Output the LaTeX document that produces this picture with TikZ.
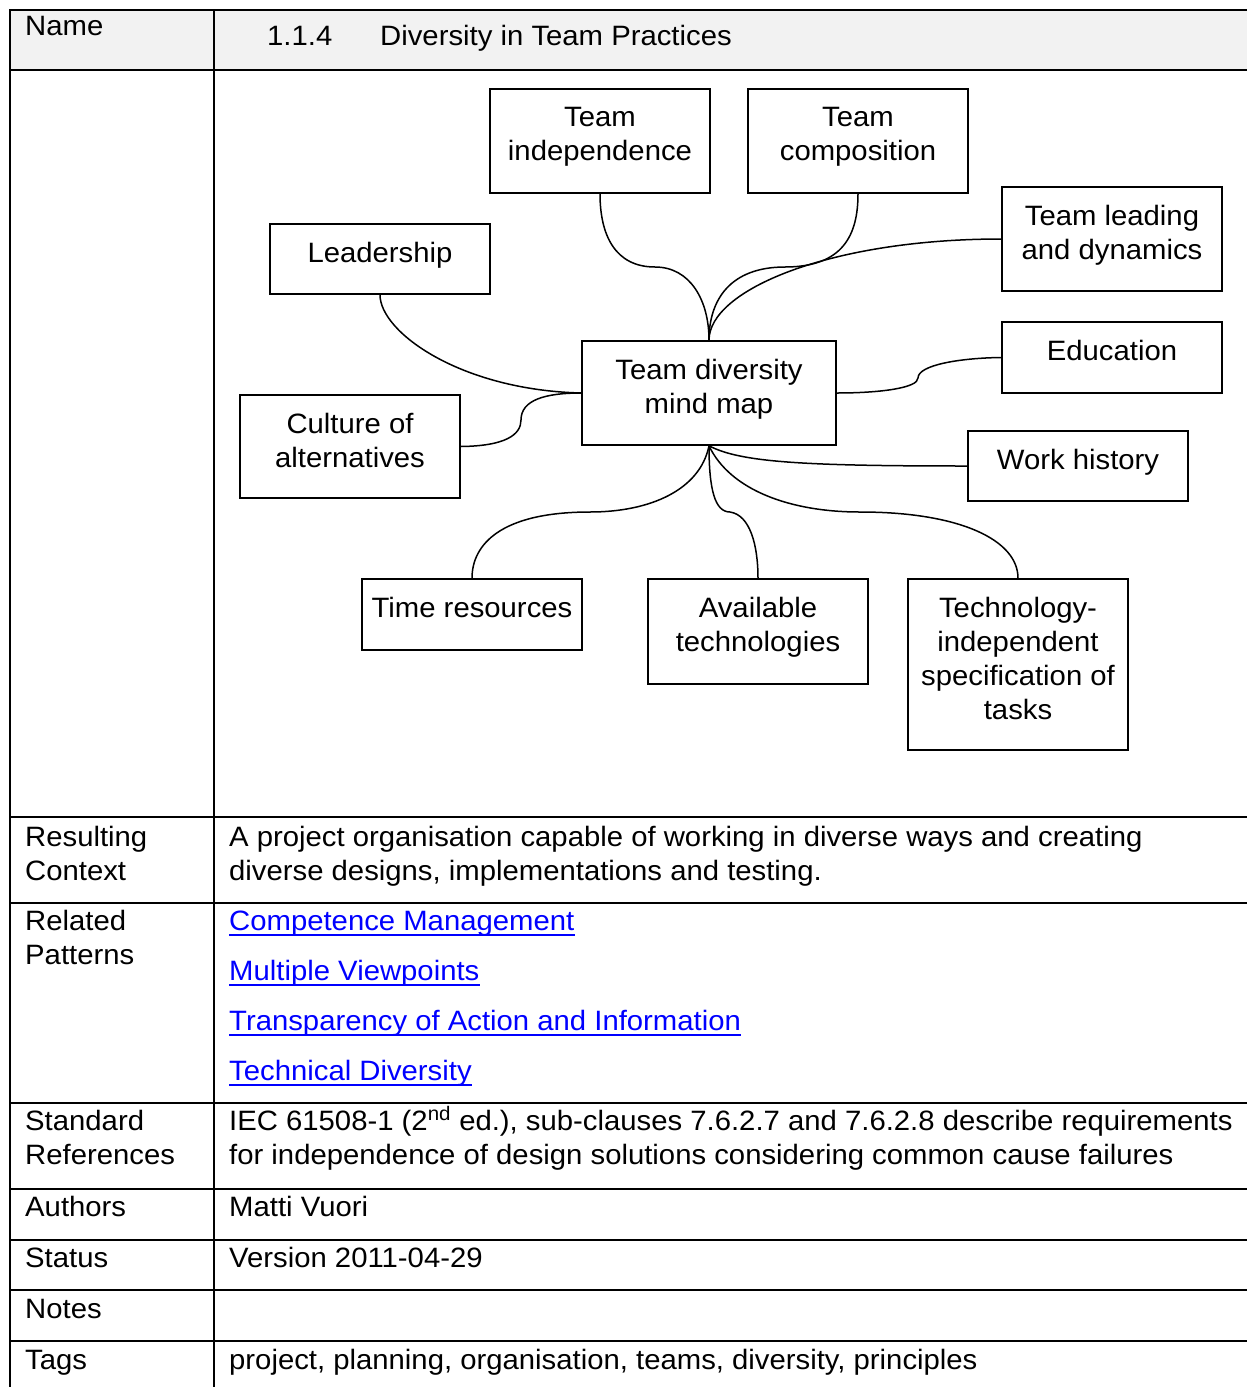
\documentclass[tikz,border=0pt]{standalone}
\usepackage{fontspec}
\setmainfont{Liberation Sans}[FakeStretch=1.046]
\definecolor{headgray}{HTML}{F2F2F2}
\definecolor{linkblue}{HTML}{0000FF}
\begin{document}
\begin{tikzpicture}[x=1pt,y=-1pt,
  tbl/.style={line width=2pt},
  mbox/.style={draw, line width=1.6pt, rectangle, inner sep=0pt},
  lbl/.style={anchor=north, inner sep=0pt, align=center, font=\fontsize{28}{34}\selectfont},
  cell/.style={anchor=base west, inner sep=0pt, font=\fontsize{28}{34}\selectfont},
  linktxt/.style={cell, text=linkblue},
  conn/.style={line width=1.5pt}]
\useasboundingbox (0,0) rectangle (1247,1387);
% table
\fill[headgray] (10,10) rectangle (1247,70);
\draw[tbl] (1247,10) -- (10,10) -- (10,1387);
\draw[tbl] (214,10) -- (214,1387);
\foreach \yy in {70,817,903,1103,1189,1240,1290,1341}
  \draw[tbl] (10,\yy) -- (1247,\yy);
% table texts
\node[cell] (nm) at (25,35) {Name};
\node[cell] (num) at (267,45) {1.1.4};
\node[cell] (ttl) at (380,45) {Diversity in Team Practices};
\node[cell] (rc1) at (25,846) {Resulting};
\node[cell] (rc2) at (25,880) {Context};
\node[cell] (rt1) at (229,846) {A project organisation capable of working in diverse ways and creating};
\node[cell] (rt2) at (229,880) {diverse designs, implementations and testing.};
\node[cell] (rp1) at (25,930) {Related};
\node[cell] (rp2) at (25,964) {Patterns};
\node[linktxt] (l1) at (229,930) {Competence Management};
\node[linktxt] (l2) at (229,980) {Multiple Viewpoints};
\node[linktxt] (l3) at (229,1030) {Transparency of Action and Information};
\node[linktxt] (l4) at (229,1080) {Technical Diversity};
\foreach \n in {l1,l2,l3,l4}
  \draw[linkblue, line width=2pt] ([yshift=-5pt]\n.base west) -- ([yshift=-5pt]\n.base east);
\node[cell] (sr1) at (25,1130) {Standard};
\node[cell] (sr2) at (25,1164) {References};
\node[cell] (st1) at (229,1130) {IEC 61508-1 (2\textsuperscript{nd} ed.), sub-clauses 7.6.2.7 and 7.6.2.8 describe requirements};
\node[cell] (st2) at (229,1164) {for independence of design solutions considering common cause failures};
\node[cell] (au) at (25,1216) {Authors};
\node[cell] (auv) at (229,1216) {Matti Vuori};
\node[cell] (sta) at (25,1267) {Status};
\node[cell] (stav) at (229,1267) {Version 2011-04-29};
\node[cell] (no) at (25,1318) {Notes};
\node[cell] (tg) at (25,1369) {Tags};
\node[cell] (tgv) at (229,1369) {project, planning, organisation, teams, diversity, principles};
% mind map boxes
\node[mbox, minimum width=220pt, minimum height=104pt] (ti) at (600,141) {};
\node[mbox, minimum width=220pt, minimum height=104pt] (tc) at (858,141) {};
\node[mbox, minimum width=220pt, minimum height=104pt] (tl) at (1112,239) {};
\node[mbox, minimum width=220pt, minimum height=70pt] (le) at (380,259) {};
\node[mbox, minimum width=254pt, minimum height=104pt] (tdm) at (709,393) {};
\node[mbox, minimum width=220pt, minimum height=71pt] (ed) at (1112,357.5) {};
\node[mbox, minimum width=220pt, minimum height=103pt] (ca) at (350,446.5) {};
\node[mbox, minimum width=220pt, minimum height=70pt] (wh) at (1078,466) {};
\node[mbox, minimum width=220pt, minimum height=71pt] (tr) at (472,614.5) {};
\node[mbox, minimum width=220pt, minimum height=105pt] (at) at (758,631.5) {};
\node[mbox, minimum width=220pt, minimum height=171pt] (tit) at (1018,664.5) {};
% labels
\node[lbl] (ti-t) at (600,107) {Team\\independence};
\node[lbl] (tc-t) at (858,107) {Team\\composition};
\node[lbl] (tl-t) at (1112,205) {Team leading\\and dynamics};
\node[lbl] (le-t) at (380,242) {Leadership};
\node[lbl] (tdm-t) at (709,359) {Team diversity\\mind map};
\node[lbl] (ed-t) at (1112,340) {Education};
\node[lbl] (ca-t) at (350,413) {Culture of\\alternatives};
\node[lbl] (wh-t) at (1078,449) {Work history};
\node[lbl] (tr-t) at (472,597) {Time resources};
\node[lbl] (at-t) at (758,597) {Available\\technologies};
\node[lbl] (tit-t) at (1018,597) {Technology-\\independent\\specification of\\tasks};
% connectors
\draw[conn] (ti.south) .. controls (600,235) and (615,267) .. (655,267)
  .. controls (690,267) and (709,300) .. (tdm.north);
\draw[conn] (tc.south) .. controls (858,235) and (843,267) .. (785,267)
  .. controls (730,267) and (709,300) .. (tdm.north);
\draw[conn] (tl.west) .. controls (830,239) and (709,290) .. (tdm.north);
\draw[conn] (le.south) .. controls (380,332) and (460,390) .. (tdm.west);
\draw[conn] (ca.east) .. controls (505,446) and (521,435) .. (521,420)
  .. controls (521,400) and (545,393) .. (tdm.west);
\draw[conn] (tdm.east) .. controls (880,393) and (918,388) .. (918,378)
  .. controls (918,365) and (960,358) .. (ed.west);
\draw[conn] (tdm.south) .. controls (740,462) and (800,466) .. (wh.west);
\draw[conn] (tdm.south) .. controls (700,490) and (650,512) .. (590,512)
  .. controls (500,512) and (472,545) .. (tr.north);
\draw[conn] (tdm.south) .. controls (709,490) and (715,512) .. (730,512)
  .. controls (750,515) and (758,545) .. (at.north);
\draw[conn] (tdm.south) .. controls (730,490) and (790,512) .. (860,512)
  .. controls (960,512) and (1018,540) .. (tit.north);
\end{tikzpicture}
\end{document}
